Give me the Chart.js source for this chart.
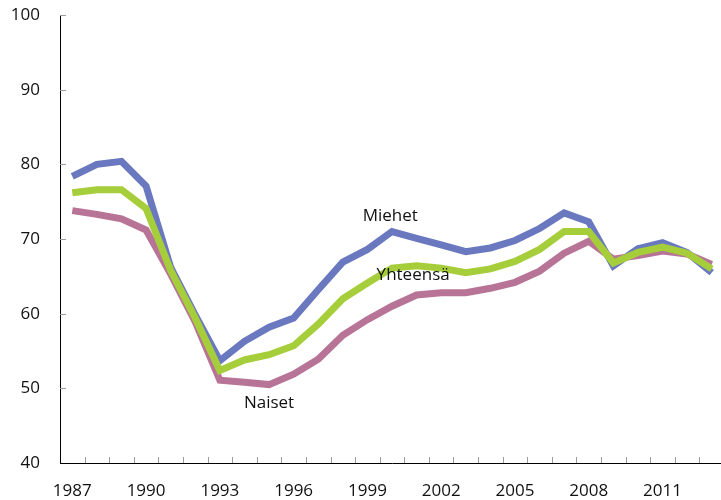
<!DOCTYPE html>
<html>
<head>
<meta charset="utf-8">
<script src="https://cdn.jsdelivr.net/npm/chart.js@4.4.1/dist/chart.umd.min.js"></script>
<style>
  html, body { margin: 0; padding: 0; background: #fff; overflow: hidden; }
  #wrap { width: 726px; height: 500px; position: relative; }
</style>
</head>
<body>
<div id="wrap"><canvas id="c"></canvas></div>
<script>
const years = ['1987','1988','1989','1990','1991','1992','1993','1994','1995','1996','1997','1998','1999','2000','2001','2002','2003','2004','2005','2006','2007','2008','2009','2010','2011','2012','2013'];
const miehet = [78.4, 80.0, 80.4, 77.1, 66.2, 59.8, 53.7, 56.3, 58.2, 59.4, 63.2, 66.9, 68.6, 71.0, 70.1, 69.2, 68.3, 68.8, 69.8, 71.4, 73.5, 72.3, 66.4, 68.7, 69.5, 68.2, 65.5];
const yhteensa = [76.2, 76.6, 76.6, 74.1, 65.8, 59.4, 52.4, 53.8, 54.5, 55.7, 58.6, 62.0, 64.1, 66.1, 66.4, 66.1, 65.5, 66.0, 67.0, 68.6, 71.0, 71.0, 66.8, 68.2, 68.9, 68.1, 66.0];
const naiset = [73.8, 73.3, 72.7, 71.2, 65.3, 58.9, 51.1, 50.8, 50.5, 51.9, 53.9, 57.1, 59.2, 61.0, 62.5, 62.8, 62.8, 63.4, 64.2, 65.7, 68.1, 69.7, 67.3, 67.8, 68.4, 68.0, 66.6];
const yTicks = [40, 50, 60, 70, 80, 90, 100];
const seriesLabels = [
  { text: 'Miehet', x: 12.93, y: 73.0 },
  { text: 'Yhteensä', x: 13.86, y: 65.1 },
  { text: 'Naiset', x: 8.0, y: 48.05 }
];

const FONT = "'Open Sans', 'Liberation Sans', sans-serif";

const tickPlugin = {
  id: 'inwardTicks',
  afterDraw(chart) {
    const ctx = chart.ctx;
    const xs = chart.scales.x, ys = chart.scales.y;
    const area = chart.chartArea;
    ctx.save();
    ctx.strokeStyle = '#9a9a9a';
    ctx.lineWidth = 1;
    ctx.beginPath();
    yTicks.forEach(v => {
      if (v === 40) return;
      const py = Math.round(ys.getPixelForValue(v)) + 0.5;
      ctx.moveTo(area.left, py);
      ctx.lineTo(area.left + 6, py);
    });
    for (let i = 1; i < years.length; i++) {
      const px = Math.round((xs.getPixelForValue(i - 1) + xs.getPixelForValue(i)) / 2) + 0.5;
      ctx.moveTo(px, area.bottom);
      ctx.lineTo(px, area.bottom - 6);
    }
    ctx.stroke();
    ctx.fillStyle = '#111';
    ctx.font = '17px ' + FONT;
    ctx.textAlign = 'center';
    ctx.textBaseline = 'middle';
    seriesLabels.forEach(l => {
      ctx.fillText(l.text, xs.getPixelForValue(l.x), ys.getPixelForValue(l.y));
    });
    ctx.restore();
  }
};

new Chart(document.getElementById('c'), {
  type: 'line',
  data: {
    labels: years,
    datasets: [
      { label: 'Miehet', data: miehet, borderColor: '#6a78c0', borderWidth: 7, pointRadius: 0, tension: 0, order: 3 },
      { label: 'Naiset', data: naiset, borderColor: '#b87497', borderWidth: 7, pointRadius: 0, tension: 0, order: 2 },
      { label: 'Yhteensä', data: yhteensa, borderColor: '#a6cd3a', borderWidth: 7, pointRadius: 0, tension: 0, order: 1 }
    ]
  },
  options: {
    responsive: true,
    maintainAspectRatio: false,
    animation: false,
    layout: { padding: { top: 15, right: 2, left: 0, bottom: 0 } },
    plugins: { legend: { display: false }, tooltip: { enabled: false } },
    elements: { line: { borderJoinStyle: 'miter', borderCapStyle: 'butt' } },
    scales: {
      x: {
        type: 'category',
        offset: true,
        grid: { display: true, drawOnChartArea: false, drawTicks: false, color: 'rgba(0,0,0,0)' },
        border: { display: true, color: '#000', width: 1 },
        ticks: {
          autoSkip: false,
          maxRotation: 0,
          padding: 18,
          color: '#111',
          font: { family: FONT, size: 17 },
          callback: function(v, i) { return i % 3 === 0 ? years[i] : ''; }
        },
        afterFit(s) { s.height = 37; s.paddingLeft = 0; s.paddingRight = 0; }
      },
      y: {
        min: 40,
        max: 100,
        afterBuildTicks(s) { s.ticks = yTicks.map(v => ({ value: v })); },
        grid: { display: true, drawOnChartArea: false, drawTicks: false, color: 'rgba(0,0,0,0)' },
        border: { display: true, color: '#000', width: 1 },
        ticks: {
          padding: 20,
          color: '#111',
          font: { family: FONT, size: 17 }
        },
        afterFit(s) { s.width = 60; s.paddingTop = 0; s.paddingBottom = 0; }
      }
    }
  },
  plugins: [tickPlugin]
});
</script>
</body>
</html>
